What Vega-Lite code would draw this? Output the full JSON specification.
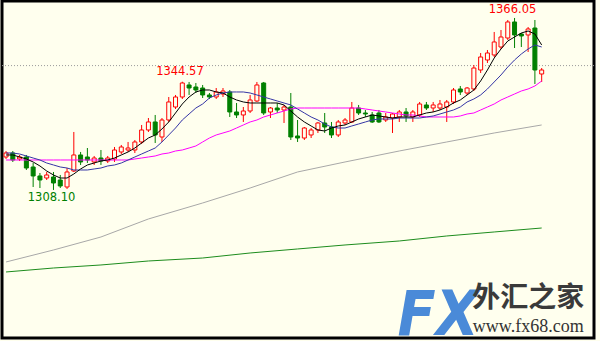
{
"$schema":"https://vega.github.io/schema/vega-lite/v6.json",
"width":600,"height":341,
"autosize":{"type":"fit","contains":"padding"},
"padding":{"left":1,"top":1,"right":5,"bottom":3},
"background":"#FFFFEE",
"config":{"view":{"stroke":"#000000","strokeWidth":3,"fill":"#FFFFEE"}},
"datasets":{
"candles":[
{"i":0,"d":"up","o":1319.20,"c":1320.55,"h":1321.22,"l":1318.53,"m5":1319.88,"m10":1320.55,"m30":1318.19},
{"i":1,"d":"dn","o":1320.55,"c":1318.19,"h":1321.22,"l":1317.52,"m5":1319.88,"m10":1320.55,"m30":1318.19},
{"i":2,"d":"up","o":1318.53,"c":1319.20,"h":1319.88,"l":1317.85,"m5":1319.20,"m10":1320.21,"m30":1318.19},
{"i":3,"d":"dn","o":1319.20,"c":1315.49,"h":1319.88,"l":1314.82,"m5":1318.53,"m10":1319.54,"m30":1318.19},
{"i":4,"d":"dn","o":1315.83,"c":1312.80,"h":1317.18,"l":1309.09,"m5":1317.52,"m10":1318.86,"m30":1318.19},
{"i":5,"d":"dn","o":1312.80,"c":1311.45,"h":1313.81,"l":1308.75,"m5":1316.17,"m10":1318.19,"m30":1318.19},
{"i":6,"d":"up","o":1312.12,"c":1313.14,"h":1314.15,"l":1311.45,"m5":1314.48,"m10":1317.18,"m30":1318.19},
{"i":7,"d":"dn","o":1312.46,"c":1310.44,"h":1314.15,"l":1308.10,"m5":1313.14,"m10":1316.51,"m30":1318.19},
{"i":8,"d":"dn","o":1311.45,"c":1309.43,"h":1313.14,"l":1308.75,"m5":1312.12,"m10":1315.83,"m30":1318.19},
{"i":9,"d":"up","o":1309.09,"c":1314.15,"h":1315.49,"l":1308.42,"m5":1312.12,"m10":1315.49,"m30":1318.19},
{"i":10,"d":"up","o":1314.48,"c":1319.88,"h":1327.63,"l":1314.15,"m5":1313.47,"m10":1314.82,"m30":1318.19},
{"i":11,"d":"dn","o":1319.88,"c":1317.52,"h":1320.89,"l":1316.51,"m5":1315.16,"m10":1314.82,"m30":1318.19},
{"i":12,"d":"dn","o":1319.20,"c":1318.19,"h":1322.23,"l":1317.18,"m5":1316.51,"m10":1314.82,"m30":1318.19},
{"i":13,"d":"up","o":1317.52,"c":1318.86,"h":1319.54,"l":1316.51,"m5":1317.18,"m10":1315.16,"m30":1318.19},
{"i":14,"d":"dn","o":1318.86,"c":1317.85,"h":1321.56,"l":1316.51,"m5":1317.85,"m10":1315.49,"m30":1318.19},
{"i":15,"d":"up","o":1317.85,"c":1318.86,"h":1319.54,"l":1317.18,"m5":1318.19,"m10":1316.17,"m30":1318.19},
{"i":16,"d":"up","o":1318.53,"c":1321.56,"h":1322.57,"l":1317.52,"m5":1318.86,"m10":1316.51,"m30":1318.19},
{"i":17,"d":"up","o":1320.89,"c":1322.57,"h":1323.25,"l":1320.21,"m5":1319.88,"m10":1317.18,"m30":1318.19},
{"i":18,"d":"up","o":1321.56,"c":1322.23,"h":1324.26,"l":1320.89,"m5":1320.89,"m10":1318.19,"m30":1318.19},
{"i":19,"d":"up","o":1321.56,"c":1324.26,"h":1324.93,"l":1320.55,"m5":1322.23,"m10":1319.20,"m30":1318.53},
{"i":20,"d":"up","o":1324.26,"c":1328.30,"h":1329.99,"l":1323.58,"m5":1323.92,"m10":1320.21,"m30":1318.86},
{"i":21,"d":"up","o":1328.30,"c":1331.00,"h":1332.34,"l":1327.63,"m5":1325.60,"m10":1321.22,"m30":1319.20},
{"i":22,"d":"dn","o":1331.00,"c":1326.62,"h":1333.36,"l":1323.92,"m5":1326.62,"m10":1322.23,"m30":1319.54},
{"i":23,"d":"up","o":1325.94,"c":1331.67,"h":1332.34,"l":1324.26,"m5":1328.64,"m10":1324.26,"m30":1320.21},
{"i":24,"d":"up","o":1331.67,"c":1337.74,"h":1339.42,"l":1331.00,"m5":1331.00,"m10":1326.62,"m30":1320.55},
{"i":25,"d":"up","o":1336.05,"c":1339.42,"h":1340.10,"l":1335.38,"m5":1334.03,"m10":1328.97,"m30":1321.22},
{"i":26,"d":"up","o":1339.42,"c":1344.14,"h":1344.57,"l":1338.75,"m5":1337.06,"m10":1331.67,"m30":1321.56},
{"i":27,"d":"dn","o":1343.47,"c":1342.45,"h":1344.48,"l":1340.10,"m5":1339.42,"m10":1333.69,"m30":1322.23},
{"i":28,"d":"dn","o":1342.79,"c":1341.78,"h":1344.14,"l":1340.77,"m5":1341.11,"m10":1335.71,"m30":1322.91},
{"i":29,"d":"dn","o":1342.45,"c":1340.10,"h":1343.47,"l":1339.08,"m5":1341.78,"m10":1337.06,"m30":1324.26},
{"i":30,"d":"dn","o":1340.10,"c":1339.42,"h":1340.77,"l":1338.75,"m5":1341.78,"m10":1339.08,"m30":1325.60},
{"i":31,"d":"up","o":1339.42,"c":1341.11,"h":1342.45,"l":1338.75,"m5":1341.11,"m10":1340.10,"m30":1326.62},
{"i":32,"d":"up","o":1340.43,"c":1341.44,"h":1342.45,"l":1339.42,"m5":1340.77,"m10":1340.77,"m30":1327.29},
{"i":33,"d":"dn","o":1341.11,"c":1334.37,"h":1341.78,"l":1332.68,"m5":1339.42,"m10":1341.11,"m30":1327.96},
{"i":34,"d":"dn","o":1334.37,"c":1333.36,"h":1337.40,"l":1332.34,"m5":1338.41,"m10":1341.11,"m30":1328.97},
{"i":35,"d":"up","o":1333.36,"c":1334.70,"h":1336.05,"l":1331.00,"m5":1337.74,"m10":1341.11,"m30":1329.99},
{"i":36,"d":"up","o":1334.70,"c":1338.41,"h":1340.10,"l":1334.03,"m5":1337.40,"m10":1340.77,"m30":1331.00},
{"i":37,"d":"up","o":1338.07,"c":1343.47,"h":1344.48,"l":1337.74,"m5":1337.40,"m10":1340.10,"m30":1331.67},
{"i":38,"d":"dn","o":1344.14,"c":1334.03,"h":1344.48,"l":1333.36,"m5":1337.40,"m10":1339.42,"m30":1332.68},
{"i":39,"d":"up","o":1334.37,"c":1335.71,"h":1336.05,"l":1332.34,"m5":1337.40,"m10":1338.75,"m30":1333.36},
{"i":40,"d":"dn","o":1335.71,"c":1335.04,"h":1337.40,"l":1334.03,"m5":1337.40,"m10":1338.07,"m30":1334.03},
{"i":41,"d":"up","o":1335.04,"c":1336.05,"h":1336.73,"l":1330.66,"m5":1336.73,"m10":1337.40,"m30":1334.70},
{"i":42,"d":"dn","o":1336.05,"c":1325.94,"h":1340.77,"l":1324.93,"m5":1334.70,"m10":1336.73,"m30":1335.38},
{"i":43,"d":"dn","o":1326.28,"c":1325.60,"h":1331.67,"l":1324.26,"m5":1332.68,"m10":1335.38,"m30":1335.71},
{"i":44,"d":"up","o":1325.60,"c":1328.97,"h":1329.31,"l":1324.93,"m5":1331.00,"m10":1334.03,"m30":1335.71},
{"i":45,"d":"up","o":1326.62,"c":1328.30,"h":1328.97,"l":1325.60,"m5":1329.65,"m10":1332.68,"m30":1335.71},
{"i":46,"d":"up","o":1328.30,"c":1330.66,"h":1331.00,"l":1327.29,"m5":1328.30,"m10":1331.67,"m30":1335.71},
{"i":47,"d":"dn","o":1330.66,"c":1329.31,"h":1334.03,"l":1327.29,"m5":1327.96,"m10":1330.32,"m30":1335.71},
{"i":48,"d":"dn","o":1329.31,"c":1326.62,"h":1331.00,"l":1325.60,"m5":1328.97,"m10":1329.31,"m30":1335.71},
{"i":49,"d":"up","o":1326.62,"c":1331.00,"h":1331.67,"l":1325.94,"m5":1329.65,"m10":1328.97,"m30":1335.71},
{"i":50,"d":"up","o":1330.66,"c":1331.67,"h":1332.34,"l":1329.99,"m5":1329.99,"m10":1328.97,"m30":1335.71},
{"i":51,"d":"up","o":1331.00,"c":1335.71,"h":1337.74,"l":1330.66,"m5":1331.00,"m10":1329.65,"m30":1335.71},
{"i":52,"d":"dn","o":1335.71,"c":1334.03,"h":1336.73,"l":1333.36,"m5":1332.01,"m10":1330.32,"m30":1335.71},
{"i":53,"d":"dn","o":1334.03,"c":1333.69,"h":1335.04,"l":1332.68,"m5":1332.68,"m10":1331.00,"m30":1335.38},
{"i":54,"d":"dn","o":1333.36,"c":1331.00,"h":1334.37,"l":1330.66,"m5":1333.36,"m10":1331.67,"m30":1335.04},
{"i":55,"d":"dn","o":1334.03,"c":1331.00,"h":1335.04,"l":1330.66,"m5":1333.02,"m10":1332.01,"m30":1334.70},
{"i":56,"d":"up","o":1331.67,"c":1332.68,"h":1334.03,"l":1331.00,"m5":1332.68,"m10":1332.01,"m30":1334.37},
{"i":57,"d":"up","o":1332.34,"c":1333.69,"h":1334.03,"l":1327.29,"m5":1332.34,"m10":1332.01,"m30":1334.03},
{"i":58,"d":"up","o":1332.68,"c":1334.37,"h":1335.04,"l":1331.00,"m5":1332.68,"m10":1332.34,"m30":1333.69},
{"i":59,"d":"dn","o":1334.37,"c":1333.02,"h":1335.71,"l":1331.00,"m5":1332.68,"m10":1332.34,"m30":1333.36},
{"i":60,"d":"up","o":1332.68,"c":1334.37,"h":1335.04,"l":1331.00,"m5":1332.68,"m10":1332.34,"m30":1333.36},
{"i":61,"d":"up","o":1333.36,"c":1337.06,"h":1337.74,"l":1332.68,"m5":1333.36,"m10":1332.34,"m30":1333.02},
{"i":62,"d":"dn","o":1336.73,"c":1335.71,"h":1337.74,"l":1335.04,"m5":1334.03,"m10":1332.68,"m30":1332.68},
{"i":63,"d":"up","o":1335.71,"c":1336.73,"h":1337.74,"l":1334.37,"m5":1334.37,"m10":1333.02,"m30":1332.68},
{"i":64,"d":"up","o":1335.71,"c":1337.06,"h":1338.41,"l":1335.04,"m5":1335.04,"m10":1333.69,"m30":1332.68},
{"i":65,"d":"up","o":1336.05,"c":1337.74,"h":1338.41,"l":1331.00,"m5":1336.05,"m10":1334.37,"m30":1332.68},
{"i":66,"d":"up","o":1337.74,"c":1341.78,"h":1342.45,"l":1337.06,"m5":1337.40,"m10":1335.04,"m30":1332.68},
{"i":67,"d":"dn","o":1342.12,"c":1341.11,"h":1343.13,"l":1340.10,"m5":1338.41,"m10":1336.05,"m30":1333.02},
{"i":68,"d":"up","o":1340.77,"c":1342.45,"h":1342.79,"l":1340.10,"m5":1340.10,"m10":1337.74,"m30":1333.69},
{"i":69,"d":"up","o":1342.12,"c":1349.19,"h":1350.21,"l":1341.44,"m5":1341.78,"m10":1338.75,"m30":1334.03},
{"i":70,"d":"up","o":1348.52,"c":1352.90,"h":1354.25,"l":1347.51,"m5":1344.81,"m10":1340.10,"m30":1335.04},
{"i":71,"d":"up","o":1351.89,"c":1354.25,"h":1355.26,"l":1350.88,"m5":1348.52,"m10":1342.12,"m30":1336.05},
{"i":72,"d":"up","o":1353.58,"c":1357.96,"h":1361.33,"l":1352.90,"m5":1352.56,"m10":1344.48,"m30":1337.06},
{"i":73,"d":"up","o":1356.27,"c":1359.64,"h":1362.00,"l":1355.60,"m5":1355.60,"m10":1346.84,"m30":1338.41},
{"i":74,"d":"up","o":1359.30,"c":1364.70,"h":1365.37,"l":1358.63,"m5":1358.29,"m10":1349.53,"m30":1339.42},
{"i":75,"d":"dn","o":1364.70,"c":1360.32,"h":1366.05,"l":1355.93,"m5":1359.64,"m10":1351.89,"m30":1340.43},
{"i":76,"d":"dn","o":1360.65,"c":1359.98,"h":1360.99,"l":1356.27,"m5":1360.99,"m10":1353.91,"m30":1341.44},
{"i":77,"d":"up","o":1360.32,"c":1362.34,"h":1363.01,"l":1354.59,"m5":1361.66,"m10":1355.60,"m30":1342.12},
{"i":78,"d":"dn","o":1362.67,"c":1348.52,"h":1365.37,"l":1343.80,"m5":1360.65,"m10":1356.95,"m30":1343.13},
{"i":79,"d":"up","o":1347.17,"c":1348.52,"h":1349.19,"l":1344.48,"m5":1356.95,"m10":1356.27,"m30":1344.81}
],
"slow":[
{"i":0,"m100":1283.82,"m200":1280.45},
{"i":7,"m100":1287.86,"m200":1281.79},
{"i":14,"m100":1292.24,"m200":1282.81},
{"i":21,"m100":1298.31,"m200":1284.15},
{"i":29,"m100":1303.70,"m200":1285.16},
{"i":36,"m100":1308.75,"m200":1286.85},
{"i":43,"m100":1314.15,"m200":1288.20},
{"i":50,"m100":1317.52,"m200":1289.55},
{"i":58,"m100":1321.22,"m200":1290.89},
{"i":65,"m100":1324.26,"m200":1292.58},
{"i":72,"m100":1327.29,"m200":1293.93},
{"i":79,"m100":1329.99,"m200":1295.27}
],
"labels":[
{"i":74.7,"p":1368.74,"t":"1366.05","k":"hi"},
{"i":25.65,"p":1347.68,"t":"1344.57","k":"hi"},
{"i":6.72,"p":1305.38,"t":"1308.10","k":"lo"}
],
"grid":[{"lv":1350}],
"brand":[{"i":63.73,"p":1259.3,"t":"FX"}],
"brandcn":[{"i":77.02,"p":1271.35,"t":"外汇之家"}],
"brandurl":[{"i":77.02,"p":1261.91,"t":"www.fx68.com"}]
},
"layer":[
{"data":{"name":"grid"},"mark":{"type":"rule","color":"#9a9a9a","strokeWidth":1,"strokeDash":[1,2]},
 "encoding":{"y":{"field":"lv","type":"quantitative","scale":{"domain":[1258.2,1371.77],"nice":false,"zero":false},"axis":null}}},
{"data":{"name":"slow"},"mark":{"type":"line","color":"#1d8c1d","strokeWidth":1,"clip":true},
 "encoding":{"x":{"field":"i","type":"quantitative","scale":{"domain":[0.1445,85.98],"nice":false,"zero":false},"axis":null},
  "y":{"field":"m200","type":"quantitative","scale":{"domain":[1258.2,1371.77],"nice":false,"zero":false},"axis":null}}},
{"data":{"name":"slow"},"mark":{"type":"line","color":"#a8a8a8","strokeWidth":1,"clip":true},
 "encoding":{"x":{"field":"i","type":"quantitative","scale":{"domain":[0.1445,85.98],"nice":false,"zero":false},"axis":null},
  "y":{"field":"m100","type":"quantitative","scale":{"domain":[1258.2,1371.77],"nice":false,"zero":false},"axis":null}}},
{"data":{"name":"candles"},"mark":{"type":"rule","strokeWidth":1,"clip":true},
 "encoding":{"x":{"field":"i","type":"quantitative","scale":{"domain":[0.1445,85.98],"nice":false,"zero":false},"axis":null},
  "y":{"field":"l","type":"quantitative","scale":{"domain":[1258.2,1371.77],"nice":false,"zero":false},"axis":null},
  "y2":{"field":"h"},
  "color":{"field":"d","type":"nominal","scale":{"domain":["up","dn"],"range":["#ff0000","#008000"]},"legend":null}}},
{"data":{"name":"candles"},"mark":{"type":"bar","size":4,"strokeWidth":1,"clip":true},
 "encoding":{"x":{"field":"i","type":"quantitative","scale":{"domain":[0.1445,85.98],"nice":false,"zero":false},"axis":null},
  "y":{"field":"o","type":"quantitative","scale":{"domain":[1258.2,1371.77],"nice":false,"zero":false},"axis":null},
  "y2":{"field":"c"},
  "fill":{"field":"d","type":"nominal","scale":{"domain":["up","dn"],"range":["#FFFFEE","#008000"]},"legend":null},
  "stroke":{"field":"d","type":"nominal","scale":{"domain":["up","dn"],"range":["#ff0000","#008000"]},"legend":null}}},
{"data":{"name":"candles"},"mark":{"type":"line","color":"#ff00ff","strokeWidth":1,"clip":true},
 "encoding":{"x":{"field":"i","type":"quantitative","scale":{"domain":[0.1445,85.98],"nice":false,"zero":false},"axis":null},
  "y":{"field":"m30","type":"quantitative","scale":{"domain":[1258.2,1371.77],"nice":false,"zero":false},"axis":null}}},
{"data":{"name":"candles"},"mark":{"type":"line","color":"#3535a5","strokeWidth":1,"clip":true},
 "encoding":{"x":{"field":"i","type":"quantitative","scale":{"domain":[0.1445,85.98],"nice":false,"zero":false},"axis":null},
  "y":{"field":"m10","type":"quantitative","scale":{"domain":[1258.2,1371.77],"nice":false,"zero":false},"axis":null}}},
{"data":{"name":"candles"},"mark":{"type":"line","color":"#000000","strokeWidth":1,"clip":true},
 "encoding":{"x":{"field":"i","type":"quantitative","scale":{"domain":[0.1445,85.98],"nice":false,"zero":false},"axis":null},
  "y":{"field":"m5","type":"quantitative","scale":{"domain":[1258.2,1371.77],"nice":false,"zero":false},"axis":null}}},
{"data":{"name":"labels"},"mark":{"type":"text","font":"DejaVu Sans","fontSize":11.5,"align":"center","baseline":"middle"},
 "encoding":{"x":{"field":"i","type":"quantitative","scale":{"domain":[0.1445,85.98],"nice":false,"zero":false},"axis":null},
  "y":{"field":"p","type":"quantitative","scale":{"domain":[1258.2,1371.77],"nice":false,"zero":false},"axis":null},
  "text":{"field":"t"},
  "color":{"field":"k","type":"nominal","scale":{"domain":["hi","lo"],"range":["#ff2020","#3a963a"]},"legend":null}}},
{"data":{"name":"brand"},"mark":{"type":"text","font":"Liberation Sans Narrow, DejaVu Sans Condensed, Liberation Sans","fontSize":62,"fontWeight":"bold","fontStyle":"italic","align":"center","baseline":"alphabetic","color":"#4a8ad8","clip":true},
 "encoding":{"x":{"field":"i","type":"quantitative","scale":{"domain":[0.1445,85.98],"nice":false,"zero":false},"axis":null},
  "y":{"field":"p","type":"quantitative","scale":{"domain":[1258.2,1371.77],"nice":false,"zero":false},"axis":null},
  "text":{"field":"t"}}},
{"data":{"name":"brandcn"},"mark":{"type":"text","font":"Noto Sans CJK SC","fontSize":28,"fontWeight":"bold","align":"center","baseline":"middle","color":"#3a3a3a"},
 "encoding":{"x":{"field":"i","type":"quantitative","scale":{"domain":[0.1445,85.98],"nice":false,"zero":false},"axis":null},
  "y":{"field":"p","type":"quantitative","scale":{"domain":[1258.2,1371.77],"nice":false,"zero":false},"axis":null},
  "text":{"field":"t"}}},
{"data":{"name":"brandurl"},"mark":{"type":"text","font":"Liberation Serif","fontSize":18,"align":"center","baseline":"middle","color":"#333333"},
 "encoding":{"x":{"field":"i","type":"quantitative","scale":{"domain":[0.1445,85.98],"nice":false,"zero":false},"axis":null},
  "y":{"field":"p","type":"quantitative","scale":{"domain":[1258.2,1371.77],"nice":false,"zero":false},"axis":null},
  "text":{"field":"t"}}}
]
}
